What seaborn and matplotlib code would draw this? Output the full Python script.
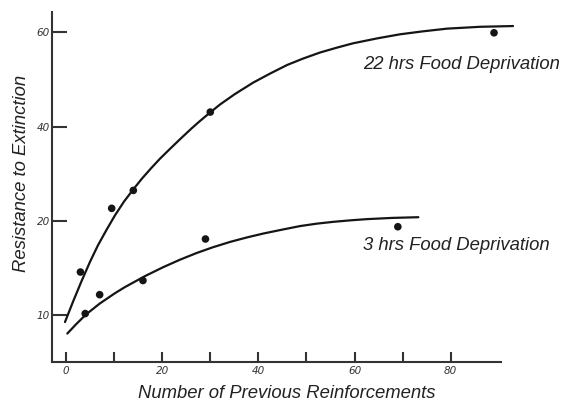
import numpy as np
import pandas as pd
import matplotlib
matplotlib.use("Agg")
import matplotlib.pyplot as plt
import seaborn as sns

# Observed points
reinf_22 = [3, 9.5, 14, 30, 89]
resist_22 = [14.6, 22.7, 26.5, 43.1, 59.9]
reinf_3 = [4, 7, 16, 29, 69]
resist_3 = [10.2, 12.2, 13.7, 18.1, 19.4]

# Fitted growth curves (traced values)
curve_x_22 = [-0.21, 1.46, 3.26, 4.99, 6.65, 8.46, 10.19, 12.06, 14.0, 15.80,
              17.68, 19.55, 21.27, 23.71, 26.20, 27.86, 29.74, 32.02, 35.14,
              38.95, 42.42, 45.96, 49.28, 52.82, 56.35, 59.68, 64.67, 69.45,
              74.24, 79.23, 86.09, 92.95]
curve_y_22 = [9.30, 11.46, 13.67, 15.68, 17.44, 19.10, 21.23, 24.13, 26.73, 29.01,
              31.18, 33.23, 34.95, 37.35, 39.72, 41.21, 42.82, 44.70, 46.93,
              49.36, 51.25, 53.07, 54.43, 55.72, 56.76, 57.67, 58.71, 59.58,
              60.21, 60.78, 61.17, 61.33]
curve_x_3 = [0.27, 2.08, 4.22, 7.07, 10.19, 12.27, 16.43, 20.23, 23.71, 27.18,
             30.57, 34.10, 37.64, 41.03, 44.92, 48.66, 52.19, 55.58, 59.06,
             62.53, 67.79, 73.26]
curve_y_3 = [8.08, 9.06, 10.13, 11.28, 12.36, 13.01, 14.17, 15.12, 15.91, 16.62,
             17.23, 17.79, 18.27, 18.68, 19.09, 19.47, 19.73, 19.92, 20.15,
             20.41, 20.67, 20.82]

x_ticks = [0, 10, 20, 30, 40, 50, 60, 70, 80]
x_tick_labels = ["0", "", "20", "", "40", "", "60", "", "80"]
y_ticks = [10, 20, 40, 60]
y_tick_labels = ["10", "20", "40", "60"]

label_22 = "22 hrs Food Deprivation"
label_3 = "3 hrs Food Deprivation"

sns.set_theme(style="white")
plt.rcParams["font.family"] = ["Liberation Sans", "DejaVu Sans"]

fig = plt.figure(figsize=(5.64, 4.01), dpi=100)
ax = fig.add_axes([0.0922, 0.0973, 0.7961, 0.8727])

# Evenly spaced y ticks at 10, 20, 40, 60
_vals = [0, 10, 20, 40, 60, 80]
_pos = [-1, 0, 1, 2, 3, 4]
ax.set_yscale("function",
              functions=(lambda v: np.interp(v, _vals, _pos),
                         lambda p: np.interp(p, _pos, _vals)))

ink = "#151515"
curves = pd.DataFrame({
    "x": curve_x_22 + curve_x_3,
    "y": curve_y_22 + curve_y_3,
    "group": [label_22] * len(curve_x_22) + [label_3] * len(curve_x_3),
})
points = pd.DataFrame({
    "x": reinf_22 + reinf_3,
    "y": resist_22 + resist_3,
    "group": [label_22] * len(reinf_22) + [label_3] * len(reinf_3),
})

sns.lineplot(data=curves, x="x", y="y", units="group", estimator=None,
             color=ink, linewidth=1.6, sort=True, ax=ax, legend=False,
             clip_on=False)
sns.scatterplot(data=points, x="x", y="y", color=ink, s=30,
                edgecolor="none", ax=ax, legend=False, zorder=3,
                clip_on=False)

ax.set_xlim(-2.91, 90.45)
ax.set_ylim(5.07, 64.3)

ax.set_xticks(x_ticks)
ax.set_xticklabels(x_tick_labels)
ax.set_yticks(y_ticks)
ax.set_yticklabels(y_tick_labels)
ax.minorticks_off()

for side in ("top", "right"):
    ax.spines[side].set_visible(False)
for side in ("left", "bottom"):
    ax.spines[side].set_color("#333333")
    ax.spines[side].set_linewidth(1.5)

ax.tick_params(axis="x", direction="in", length=7.5, width=1.5,
               color="#333333", pad=3, bottom=True)
ax.tick_params(axis="y", direction="in", length=10.5, width=1.5,
               color="#333333", pad=1.5, left=True)
for t in ax.get_xticklabels() + ax.get_yticklabels():
    t.set_fontfamily("DejaVu Sans")
    t.set_fontstyle("italic")
    t.set_fontsize(7.5)
    t.set_color("#333333")

ax.set_xlabel("Number of Previous Reinforcements", fontsize=13.3,
              fontstyle="italic", color="#222222")
ax.set_ylabel("Resistance to Extinction", fontsize=13.3,
              fontstyle="italic", color="#222222")
ax.xaxis.set_label_coords(0.523, -0.066)
ax.yaxis.set_label_coords(-0.048, 0.539)

ax.text(61.7, 52.2, label_22, fontsize=13.3, fontstyle="italic",
        color="#222222", va="baseline", ha="left")
ax.text(61.7, 16.96, label_3, fontsize=13.3, fontstyle="italic",
        color="#222222", va="baseline", ha="left")

fig.savefig("out.png", dpi=100, facecolor="white")
